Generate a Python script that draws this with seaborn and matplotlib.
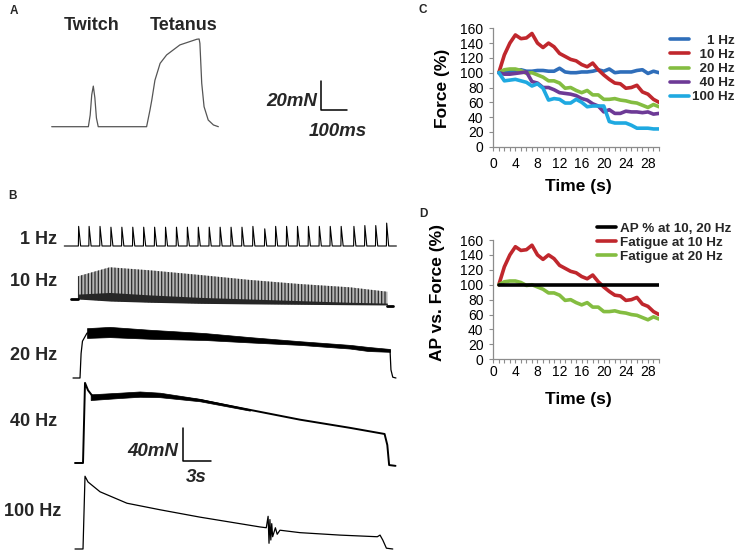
import matplotlib
matplotlib.use("Agg")
import numpy as np
import pandas as pd
import matplotlib.pyplot as plt
import seaborn as sns
from matplotlib.ticker import MultipleLocator

sns.set_theme(style="ticks")
plt.rcParams['font.family'] = ['Liberation Sans', 'DejaVu Sans']
plt.rcParams['hatch.linewidth'] = 0.9

# ---- panels C / D : force in % of the first contraction, one value per second
sec = list(range(1, 31))
force_1hz = [100, 101, 102, 102, 104, 102, 102, 103, 103, 102, 102, 106, 101, 100, 100,
             101, 101, 102, 104, 102, 105, 100, 101, 101, 101, 103, 104, 99, 102, 100]
force_10hz = [100, 124, 140, 151, 146, 147, 153, 140, 134, 140, 135, 126, 122, 118, 116,
              111, 108, 113, 104, 97, 91, 86, 85, 79, 80, 83, 74, 71, 64, 60]
force_20hz = [100, 104, 105, 105, 103, 99, 100, 97, 94, 89, 89, 86, 79, 80, 76,
              73, 76, 70, 70, 64, 64, 65, 63, 62, 60, 59, 56, 53, 57, 54]
force_40hz = [100, 98, 98, 99, 100, 101, 88, 86, 80, 80, 77, 73, 72, 71, 69,
              65, 63, 58, 55, 47, 50, 45, 45, 48, 47, 47, 46, 47, 44, 45]
force_100hz = [100, 89, 90, 91, 89, 87, 82, 85, 79, 63, 65, 64, 59, 59, 64,
               60, 54, 55, 55, 55, 34, 32, 32, 32, 29, 25, 25, 25, 24, 24]
ap_pct = [100] * 30

freq_names = ['1 Hz', '10 Hz', '20 Hz', '40 Hz', '100 Hz']
freq_colors = ['#2f6eba', '#c0272d', '#84bd41', '#6d3a96', '#1fa9e1']

# ---- panel A : twitch and tetanus recording (ms, mN)
a_time = [0, 141, 148, 154, 160, 166, 172, 179, 365, 378, 385, 397, 417, 442, 493,
          558, 567, 570, 577, 586, 602, 622, 641]
a_force = [0, 0, 8, 22, 28, 20, 6, 0, 0, 11.5, 18.4, 32, 43.7, 49.5, 56.4,
           60.3, 60.5, 57.5, 30, 13.8, 4.6, 1.2, 0]

# ---- panel B : recordings at each frequency (s, mN)
spike_t = [0.15, 1.3, 2.5, 3.7, 4.9, 6.1, 7.3, 8.5, 9.7, 10.9, 12.1, 13.3, 14.5, 15.7, 16.9,
           18.1, 19.3, 20.6, 21.8, 23.0, 24.2, 25.4, 26.6, 27.8, 29.0, 30.4, 31.6, 32.8, 34.0]
spike_h = [24, 24, 24, 23, 23, 23, 23, 23, 23, 23, 23, 23, 23, 23, 23,
           23, 24, 21, 24, 24, 24, 24, 24, 24, 24, 24, 25, 25, 28]

t10_env = [0.1, 3.6, 8.0, 13.5, 19.0, 24.5, 30.0, 34.1]
f10_top = [27.8, 38.8, 35.1, 29.4, 23.3, 18.3, 14.3, 8.9]
f10_trough = [6, 8, 5, 2, 0, -2, -4, -5]
f10_bot = [0, -2.5, -4, -5.3, -6, -6.5, -7, -7.3]

t20 = [-0.44, 0.33, 0.45, 0.6, 1.1, 3.6, 8.0, 14.0, 19.0, 24.5, 30.0, 32.0, 34.4, 34.5, 34.7, 35.05]
f20 = [0, 0, 30, 45, 55, 56, 53.5, 50.7, 46.8, 42.9, 38.2, 35.5, 33.7, 10, 1, 0]
t20_band = [1.1, 3.6, 8.0, 14.0, 19.0, 24.5, 30.0, 32.0, 34.4]
f20_top = [61, 62.5, 59, 55, 50, 45, 40.5, 38, 35.5]
f20_bot = [49, 50, 48, 46.5, 43.5, 40.5, 36, 33, 32]

t40 = [-0.22, 0.66, 0.88, 1.21, 1.76, 2.53, 4.73, 6.92, 9.12, 13.5, 19.0, 24.5, 30.0, 33.8, 34.1, 34.3, 35.0]
f40 = [0, 0, 98, 89, 81, 80.5, 83, 84.5, 83, 77, 65, 53, 43, 35.5, 22, -2.5, -3.5]
t40_band = [1.5, 4.7, 6.9, 9.1, 13.5, 19.0]
f40_top = [84, 86, 87.5, 86, 78.5, 65.8]
f40_bot = [77, 79.5, 81, 80.5, 75.5, 64]

t100 = [-0.22, 0.66, 0.88, 1.21, 2.53, 5.49, 9.12, 13.5, 16.8, 20.1, 20.8, 21.0, 21.1, 21.2,
        21.3, 21.4, 21.5, 21.8, 22.0, 22.3, 24.5, 28.9, 33.0, 33.3, 33.6, 34.0, 34.7]
f100 = [0, 0, 89, 82, 70, 56, 48, 39, 33, 27, 26, 40, 7, 36,
        11, 31, 15, 26, 18, 23, 20, 17, 15, 17, 11, 1, 0]

W, H = 738, 556
fig = plt.figure(figsize=(W / 100, H / 100), dpi=100)
fig.patch.set_facecolor('white')


def px_axes(l, t, r, b):
    return fig.add_axes([l / W, 1 - b / H, (r - l) / W, (b - t) / H])


def trace_axes(box, x0, xscale, y0, yscale):
    # box in pixels, x0/y0 = pixel of data zero, scales in pixels per unit
    l, t, r, b = box
    ax = px_axes(l, t, r, b)
    ax.set_xlim((l - x0) / xscale, (r - x0) / xscale)
    ax.set_ylim((y0 - b) / yscale, (y0 - t) / yscale)
    ax.axis('off')
    return ax


def ftext(x, y, s, **kw):
    fig.text(x / W, 1 - y / H, s, **kw)


bold13 = dict(fontsize=13, fontweight='bold', va='center')
scale_kw = dict(fontsize=13.5, fontweight='bold', style='italic', va='center')

# ---------------- A
axA = trace_axes((40, 30, 380, 145), 51.7, 0.26, 126.7, 1.45)
axA.plot(a_time, a_force, color='#555555', lw=0.9)
axA.plot([1035, 1035, 1135], [31.5, 11.5, 11.5], color='black', lw=1.1)
ftext(14, 11, 'A', fontsize=8.5, fontweight='bold', ha='center', va='center')
ftext(92, 25, 'Twitch', ha='center', **bold13)
ftext(184, 25, 'Tetanus', ha='center', **bold13)
ftext(317, 102, '20mN', ha='right', **scale_kw)
ftext(338, 132, '100ms', ha='center', **scale_kw)

# ---------------- B
ftext(12, 196, 'B', fontsize=8.5, fontweight='bold', ha='center', va='center')
bx = dict(x0=77, xscale=9.1, yscale=0.8175)

ax1 = trace_axes((60, 215, 400, 252), y0=246, **bx)
t1, f1 = [-1.4], [0]
for t, h in zip(spike_t, spike_h):
    t1 += [t, t + 0.03, t + 0.25]
    f1 += [0, h, 0]
t1.append(35.1)
f1.append(0)
ax1.plot(t1, f1, color='black', lw=0.8)

ax10 = trace_axes((60, 262, 400, 312), y0=299, **bx)
ax10.fill_between(t10_env, f10_bot, f10_top, facecolor='#b4b4b4', edgecolor='#2a2a2a',
                  hatch='|||||', linewidth=0)
ax10.fill_between(t10_env, f10_bot, f10_trough, color='#262626', linewidth=0)
ax10.plot([-0.66, 0.1], [0, 0], color='black', lw=2)
ax10.plot([34.1, 34.7], [-8.5, -8.5], color='black', lw=2)

ax20 = trace_axes((60, 320, 400, 385), y0=378, **bx)
ax20.plot(t20, f20, color='black', lw=0.9)
ax20.fill_between(t20_band, f20_bot, f20_top, color='black', linewidth=0.5)

ax40 = trace_axes((60, 378, 400, 470), y0=463, **bx)
ax40.plot(t40, f40, color='black', lw=1.4)
ax40.fill_between(t40_band, f40_bot, f40_top, color='black', linewidth=0.5)
ax40.plot([11.68, 11.68, 14.68], [42.8, 2.8, 2.8], color='black', lw=1.1)

ax100 = trace_axes((60, 470, 400, 556), y0=549, **bx)
ax100.plot(t100, f100, color='black', lw=0.9)

ftext(57, 240, '1 Hz', ha='right', **bold13)
ftext(57, 281, '10 Hz', ha='right', **bold13)
ftext(57, 355, '20 Hz', ha='right', **bold13)
ftext(57, 421, '40 Hz', ha='right', **bold13)
ftext(61, 512, '100 Hz', ha='right', **bold13)
ftext(178, 451.5, '40mN', ha='right', **scale_kw)
ftext(196, 477, '3s', ha='center', **scale_kw)


# ---------------- C / D
def style_force_axes(ax, pad):
    ax.set_xlim(0, 30)
    ax.set_ylim(0, 160)
    sns.despine(ax=ax)
    for s in ['left', 'bottom']:
        ax.spines[s].set_color('#8c8c8c')
        ax.spines[s].set_linewidth(0.9)
    ax.xaxis.set_major_locator(MultipleLocator(4))
    ax.xaxis.set_minor_locator(MultipleLocator(1))
    ax.yaxis.set_major_locator(MultipleLocator(20))
    ax.tick_params(which='both', direction='out', length=2.6, width=0.8, color='#8c8c8c',
                   labelsize=10, labelcolor='black')
    ax.tick_params(axis='x', which='both', pad=pad)
    ax.tick_params(axis='y', pad=4.5)
    ax.set_facecolor('none')


df_c = pd.DataFrame({
    'Time': sec * 5,
    'Force': force_1hz + force_10hz + force_20hz + force_40hz + force_100hz,
    'Freq': [n for n in freq_names for _ in sec],
})
axC = px_axes(493.3, 28.3, 659, 146.7)
sns.lineplot(data=df_c, x='Time', y='Force', hue='Freq', hue_order=freq_names,
             palette=freq_colors, linewidth=2.6, ax=axC)
style_force_axes(axC, 5)
axC.set_xlabel('Time (s)', fontsize=12.5, fontweight='bold', color='black')
axC.set_ylabel('Force (%)', fontsize=12.5, fontweight='bold', color='black')
axC.xaxis.set_label_coords(0.511, -0.332)
axC.xaxis.label.set_va('center')
axC.yaxis.set_label_coords(-0.304, 0.496)
axC.yaxis.label.set_va('center')
sns.move_legend(axC, 'center left', bbox_to_anchor=(670 / W, 1 - 69 / H),
                bbox_transform=fig.transFigure, frameon=False, title=None,
                borderpad=0, borderaxespad=0, handlelength=1.4, handletextpad=0.25,
                labelspacing=0.12, prop=dict(size=9.7, weight='bold'))
padded = ['\u2007\u20071 Hz', '\u200710 Hz', '\u200720 Hz', '\u200740 Hz', '100 Hz']
for txt, lab in zip(axC.get_legend().get_texts(), padded):
    txt.set_text(lab)
for ln in axC.get_legend().get_lines():
    ln.set_linewidth(2.6)
ftext(423, 10, 'C', fontsize=8.5, fontweight='bold', ha='center', va='center')

df_d = pd.DataFrame({
    'Time': sec * 2,
    'Force': force_10hz + force_20hz,
    'Series': ['Fatigue at 10 Hz'] * 30 + ['Fatigue at 20 Hz'] * 30,
})
axD = px_axes(493.3, 240, 659, 359.3)
sns.lineplot(data=df_d, x='Time', y='Force', hue='Series', palette=['#c0272d', '#84bd41'],
             linewidth=2.6, ax=axD, legend=False)
sns.lineplot(x=sec, y=ap_pct, color='black', linewidth=2.6, ax=axD)
style_force_axes(axD, 1.5)
axD.set_xlabel('Time (s)', fontsize=12.5, fontweight='bold', color='black')
axD.set_ylabel('AP vs. Force (%)', fontsize=12.5, fontweight='bold', color='black')
axD.xaxis.set_label_coords(0.511, -0.333)
axD.xaxis.label.set_va('center')
axD.yaxis.set_label_coords(-0.334, 0.556)
axD.yaxis.label.set_va('center')
lines_d = axD.get_lines()
axD.legend([lines_d[2], lines_d[0], lines_d[1]],
           ['AP % at 10, 20 Hz', 'Fatigue at 10 Hz', 'Fatigue at 20 Hz'],
           loc='center left', bbox_to_anchor=(596.7 / W, 1 - 242.7 / H),
           bbox_transform=fig.transFigure, frameon=False, borderpad=0, borderaxespad=0,
           handlelength=1.45, handletextpad=0.25, labelspacing=0.12,
           prop=dict(size=9.7, weight='bold'))
ftext(423, 214, 'D', fontsize=8.5, fontweight='bold', ha='center', va='center')

fig.savefig('out.png', dpi=100)
